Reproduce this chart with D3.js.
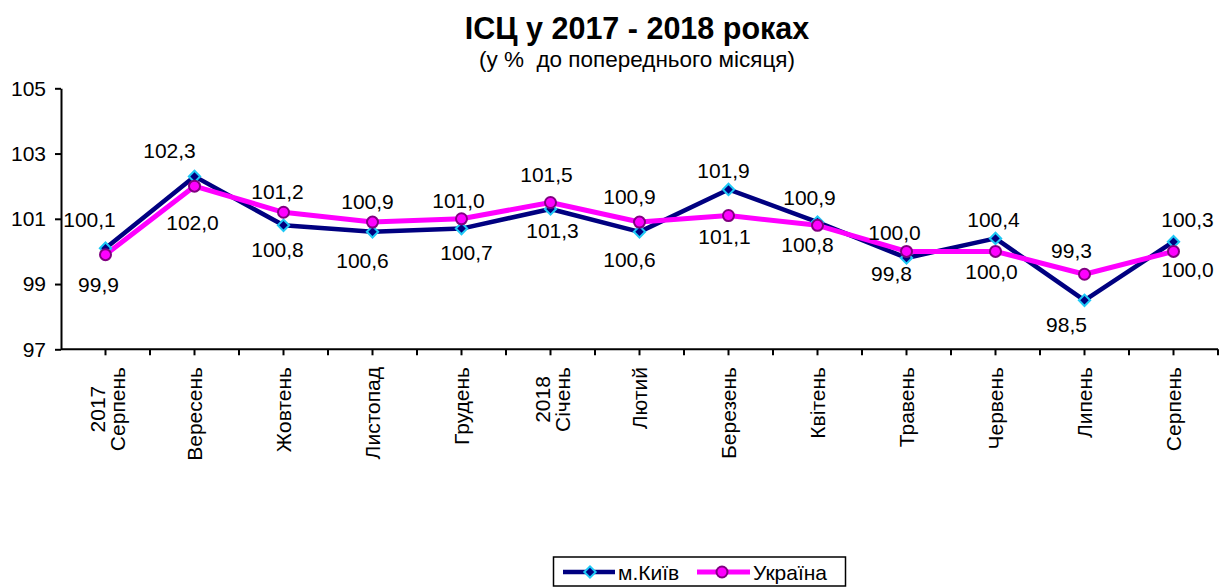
<!DOCTYPE html>
<html>
<head>
<meta charset="utf-8">
<script src="https://cdn.jsdelivr.net/npm/d3@7"></script>
<style>
  body { margin: 0; background: #fff; }
  svg { display: block; font-family: "Liberation Sans", Arial, sans-serif; }
</style>
</head>
<body>
<svg id="chart" width="1220" height="587"></svg>
<script>
// ---- data ----
const categories = [
  ["2017", "Серпень"], ["Вересень"], ["Жовтень"], ["Листопад"], ["Грудень"],
  ["2018", "Січень"], ["Лютий"], ["Березень"], ["Квітень"], ["Травень"],
  ["Червень"], ["Липень"], ["Серпень"]
];
const kyivValues    = [100.1, 102.3, 100.8, 100.6, 100.7, 101.3, 100.6, 101.9, 100.9, 99.8, 100.4, 98.5, 100.3];
const ukraineValues = [99.9, 102.0, 101.2, 100.9, 101.0, 101.5, 100.9, 101.1, 100.8, 100.0, 100.0, 99.3, 100.0];
const yTicks = [97, 99, 101, 103, 105];
const seriesNames = ["м.Київ", "Україна"];
const titleText = "ІСЦ у 2017 - 2018 роках";
const subtitleText = "(у %  до попереднього місяця)";

// label placement (offset from the point: dx, dy to baseline)
const kyivLabelOffset = [[-16,-21],[-25,-18],[-6,32],[-10,36],[5,31],[2,29],[-10,35],[-5,-11],[-8,-17],[-15,23],[-2,-11],[-18,32],[14,-15]];
const ukraineLabelOffset = [[-7,37],[-2,44],[-6,-13],[-5,-13],[-3,-11],[-4,-20],[-10,-18],[-4,28],[-10,27],[-12,-11],[-4,28],[-13,-16],[14,26]];

// ---- layout ----
const svg = d3.select("#chart");
const plotLeft = 61, plotRight = 1218, plotTop = 88.3, plotBottom = 349.3;
const idx = categories.map((c, i) => i);
const FS = 21;

const x = d3.scaleBand().domain(idx).range([plotLeft, plotRight]).padding(0);
const cx = i => x(i) + x.bandwidth() / 2;
const y = d3.scaleLinear().domain([97, 105]).range([plotBottom, plotTop]);

const fmt = v => d3.format(".1f")(v).replace(".", ",");

// title
svg.append("text").attr("x", 637).attr("y", 39).attr("text-anchor", "middle")
  .attr("font-size", 30.5).attr("font-weight", "bold").text(titleText);
svg.append("text").attr("x", 637).attr("y", 67).attr("text-anchor", "middle")
  .attr("font-size", 22.5).style("white-space", "pre").attr("xml:space", "preserve").text(subtitleText);

// y axis
const yAxis = svg.append("g").attr("transform", `translate(${plotLeft},0)`)
  .call(d3.axisLeft(y).tickValues(yTicks).tickSize(6).tickSizeOuter(0).tickPadding(9).tickFormat(d3.format("d")));
yAxis.select(".domain").attr("stroke", "#000").attr("stroke-width", 2);
yAxis.selectAll(".tick line").attr("stroke", "#000").attr("stroke-width", 2);
yAxis.selectAll(".tick text").attr("font-size", FS).attr("font-family", "Liberation Sans, Arial, sans-serif").attr("fill", "#000");

// x axis line + ticks at centres and boundaries
const xg = svg.append("g");
xg.append("line").attr("x1", plotLeft).attr("x2", plotRight).attr("y1", plotBottom).attr("y2", plotBottom)
  .attr("stroke", "#000").attr("stroke-width", 2);
const tickXs = [];
idx.forEach(i => { tickXs.push(x(i)); tickXs.push(cx(i)); });
tickXs.push(plotRight);
xg.selectAll(".xt").data(tickXs.slice(1)).enter().append("line")
  .attr("x1", d => d).attr("x2", d => d).attr("y1", plotBottom).attr("y2", plotBottom + 6)
  .attr("stroke", "#000").attr("stroke-width", 2);

// x labels (rotated, multi-line centred)
const labelTop = 367;
categories.forEach((lines, i) => {
  const g = xg.append("g");
  const n = lines.length;
  const texts = lines.map((t, k) => {
    const off = (k - (n - 1) / 2) * 20 + (n > 1 ? 2 : 0);
    return g.append("text").attr("font-size", FS).attr("text-anchor", "middle")
      .attr("dy", "0.35em").text(t).attr("data-off", off);
  });
  const maxLen = d3.max(texts, t => t.node().getComputedTextLength());
  texts.forEach(t => {
    const off = +t.attr("data-off");
    t.attr("transform", `translate(${cx(i) + off},${labelTop + maxLen / 2}) rotate(-90)`);
  });
});

// lines
const line = d3.line().x((d, i) => cx(i)).y(d => y(d));
svg.append("path").datum(kyivValues).attr("d", line).attr("fill", "none")
  .attr("stroke", "#000080").attr("stroke-width", 4.5).attr("stroke-linejoin", "round");
svg.append("path").datum(ukraineValues).attr("d", line).attr("fill", "none")
  .attr("stroke", "#FF00FF").attr("stroke-width", 5).attr("stroke-linejoin", "round");

// markers
const diamond = d3.symbol().type(d3.symbolSquare).size(64);
svg.selectAll(".km").data(kyivValues).enter().append("path")
  .attr("d", diamond).attr("transform", (d, i) => `translate(${cx(i)},${y(d)}) rotate(45)`)
  .attr("fill", "#000080").attr("stroke", "#1EC8F5").attr("stroke-width", 2);
svg.selectAll(".um").data(ukraineValues).enter().append("circle")
  .attr("cx", (d, i) => cx(i)).attr("cy", d => y(d)).attr("r", 5.5)
  .attr("fill", "#FF00FF").attr("stroke", "#800080").attr("stroke-width", 2);

// data labels
function labels(vals, offs) {
  svg.append("g").selectAll("text").data(vals).enter().append("text")
    .attr("x", (d, i) => cx(i) + offs[i][0]).attr("y", (d, i) => y(d) + offs[i][1])
    .attr("text-anchor", "middle").attr("font-size", FS).text(d => fmt(d));
}
labels(kyivValues, kyivLabelOffset);
labels(ukraineValues, ukraineLabelOffset);

// legend
const lg = svg.append("g");
lg.append("rect").attr("x", 553.5).attr("y", 557).attr("width", 292).attr("height", 29)
  .attr("fill", "#fff").attr("stroke", "#000").attr("stroke-width", 1.5);
const ly = 572;
lg.append("line").attr("x1", 563).attr("x2", 615).attr("y1", ly).attr("y2", ly)
  .attr("stroke", "#000080").attr("stroke-width", 4.5);
lg.append("path").attr("d", diamond).attr("transform", `translate(590,${ly}) rotate(45)`)
  .attr("fill", "#000080").attr("stroke", "#1EC8F5").attr("stroke-width", 2);
lg.append("text").attr("x", 618).attr("y", ly + 7.5).attr("font-size", FS).text(seriesNames[0]);
lg.append("line").attr("x1", 697).attr("x2", 750).attr("y1", ly).attr("y2", ly)
  .attr("stroke", "#FF00FF").attr("stroke-width", 5);
lg.append("circle").attr("cx", 722).attr("cy", ly).attr("r", 5.5)
  .attr("fill", "#FF00FF").attr("stroke", "#800080").attr("stroke-width", 2);
lg.append("text").attr("x", 753).attr("y", ly + 7.5).attr("font-size", FS).text(seriesNames[1]);
</script>
</body>
</html>
